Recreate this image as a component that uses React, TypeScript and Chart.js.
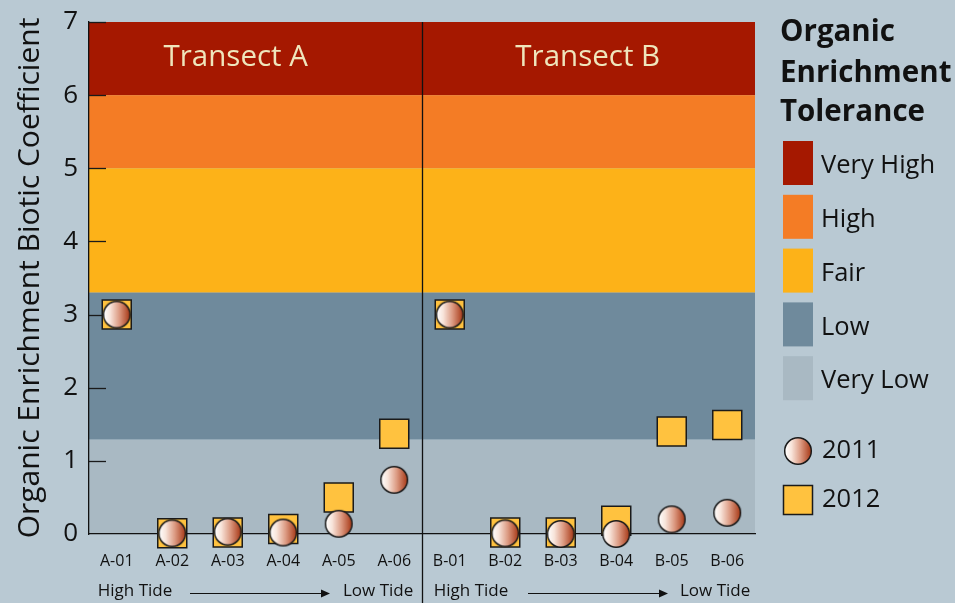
import React, { useEffect, useRef } from "react";
import { Chart, registerables } from "chart.js";
Chart.register(...registerables);

// ---- data ----
const categories = ["A-01", "A-02", "A-03", "A-04", "A-05", "A-06", "B-01", "B-02", "B-03", "B-04", "B-05", "B-06"];
const values2011 = [3.0, 0.01, 0.03, 0.02, 0.14, 0.74, 3.0, 0.01, 0.0, 0.0, 0.2, 0.29];
const values2012 = [3.0, 0.01, 0.02, 0.07, 0.5, 1.37, 3.0, 0.02, 0.02, 0.18, 1.4, 1.49];
const yTicks = [0, 1, 2, 3, 4, 5, 6, 7];
const bandNames = ["Very High", "High", "Fair", "Low", "Very Low"];
const bandFrom = [6, 5, 3.3, 1.29, 0];
const bandTo = [7, 6, 5, 3.3, 1.29];
const bandColors = ["#A51800", "#F47C25", "#FDB218", "#6F8A9C", "#A9B9C3"];
const transectNames = ["Transect A", "Transect B"];
const seriesNames = ["2011", "2012"];
const legendTitle = ["Organic", "Enrichment", "Tolerance"];
const yTitle = "Organic Enrichment Biotic Coefficient";
const tideLabels = ["High Tide", "Low Tide"];

const BG = "#B9C9D3";
const INK = "#111111";
const FONT = "'Open Sans', 'DejaVu Sans', sans-serif";
const SQUARE_FILL = "#FFC23F";

function makeCircleImage(): HTMLCanvasElement {
  const c = document.createElement("canvas");
  c.width = 30;
  c.height = 30;
  const g = c.getContext("2d")!;
  const grad = g.createLinearGradient(2, 0, 28, 0);
  grad.addColorStop(0, "#FFFFFF");
  grad.addColorStop(0.25, "#F8E4DA");
  grad.addColorStop(0.6, "#DC9A82");
  grad.addColorStop(1, "#A83A18");
  g.beginPath();
  g.arc(15, 15, 13.3, 0, Math.PI * 2);
  g.fillStyle = grad;
  g.fill();
  g.lineWidth = 1.5;
  g.strokeStyle = "#1a1a1a";
  g.stroke();
  return c;
}

export default function App() {
  const ref = useRef<HTMLCanvasElement | null>(null);

  useEffect(() => {
    document.body.style.margin = "0";
    const canvas = ref.current!;
    const circleImg = makeCircleImage();

    const decor = {
      id: "decor",
      beforeDraw(chart: any) {
        const { ctx, chartArea } = chart;
        const y = chart.scales.y;
        ctx.save();
        ctx.fillStyle = BG;
        ctx.fillRect(0, 0, chart.width, chart.height);
        for (let i = 0; i < bandNames.length; i++) {
          const top = y.getPixelForValue(bandTo[i]);
          const bot = y.getPixelForValue(bandFrom[i]);
          ctx.fillStyle = bandColors[i];
          ctx.fillRect(chartArea.left, top, chartArea.right - chartArea.left, bot - top);
        }
        ctx.restore();
      },
      beforeDatasetsDraw(chart: any) {
        const { ctx, chartArea } = chart;
        const x = chart.scales.x;
        const y = chart.scales.y;
        ctx.save();
        // inner tick marks
        ctx.strokeStyle = "#1a1a1a";
        ctx.lineWidth = 1.3;
        for (const t of yTicks) {
          if (t === 0) continue;
          const py = Math.round(y.getPixelForValue(t)) + 0.5;
          ctx.beginPath();
          ctx.moveTo(chartArea.left, py);
          ctx.lineTo(chartArea.left + 17, py);
          ctx.stroke();
        }
        // divider
        const dx = Math.round((x.getPixelForValue(5) + x.getPixelForValue(6)) / 2) + 0.5;
        ctx.lineWidth = 1.3;
        ctx.strokeStyle = "#111";
        ctx.beginPath();
        ctx.moveTo(dx, chartArea.top);
        ctx.lineTo(dx, chart.height);
        ctx.stroke();
        // transect labels
        ctx.fillStyle = "#EFE6BC";
        ctx.font = `29.5px ${FONT}`;
        ctx.textAlign = "center";
        ctx.textBaseline = "middle";
        const ty = 58;
        ctx.fillText(transectNames[0], (chartArea.left + dx) / 2 - 20, ty);
        ctx.fillText(transectNames[1], (dx + chartArea.right) / 2 - 1, ty);
        // tide labels
        ctx.fillStyle = INK;
        ctx.font = `17px ${FONT}`;
        const tyy = 591;
        const groups = [
          { hi: x.getPixelForValue(0) - 19, lo: x.getPixelForValue(5) + 19, a0: 190, a1: 330 },
          { hi: x.getPixelForValue(6) - 16, lo: x.getPixelForValue(11) + 23, a0: 528, a1: 668 },
        ];
        for (const gp of groups) {
          ctx.textAlign = "left";
          ctx.fillText(tideLabels[0], gp.hi, tyy);
          ctx.textAlign = "right";
          ctx.fillText(tideLabels[1], gp.lo, tyy);
          ctx.strokeStyle = "#111";
          ctx.lineWidth = 1.2;
          ctx.beginPath();
          ctx.moveTo(gp.a0, 593.5);
          ctx.lineTo(gp.a1 - 6, 593.5);
          ctx.stroke();
          ctx.beginPath();
          ctx.moveTo(gp.a1, 593.5);
          ctx.lineTo(gp.a1 - 9, 589.5);
          ctx.lineTo(gp.a1 - 9, 597.5);
          ctx.closePath();
          ctx.fillStyle = "#111";
          ctx.fill();
        }
        ctx.restore();
      },
      afterDraw(chart: any) {
        const { ctx } = chart;
        ctx.save();
        ctx.fillStyle = INK;
        ctx.textAlign = "left";
        ctx.textBaseline = "middle";
        ctx.font = `bold 29.5px ${FONT}`;
        const titleY = [33, 74, 113];
        legendTitle.forEach((t, i) => ctx.fillText(t, 780, titleY[i]));
        ctx.font = `25.5px ${FONT}`;
        for (let i = 0; i < bandNames.length; i++) {
          const top = 141 + i * 53.8;
          ctx.fillStyle = bandColors[i];
          ctx.fillRect(783, top, 30, 44);
          ctx.fillStyle = INK;
          ctx.fillText(bandNames[i], 821, top + 25);
        }
        ctx.drawImage(circleImg, 798 - 15, 451 - 15);
        ctx.fillText(seriesNames[0], 822, 451);
        ctx.fillStyle = SQUARE_FILL;
        ctx.fillRect(783.5, 485.5, 29, 29);
        ctx.strokeStyle = "#1a1a1a";
        ctx.lineWidth = 1.5;
        ctx.strokeRect(783.5, 485.5, 29, 29);
        ctx.fillStyle = INK;
        ctx.fillText(seriesNames[1], 822, 500);
        ctx.restore();
      },
    };

    const chart = new Chart(canvas, {
      type: "line",
      data: {
        labels: categories,
        datasets: [
          {
            label: seriesNames[0],
            data: values2011,
            showLine: false,
            clip: false as any,
            pointStyle: circleImg as any,
            pointRadius: 14,
            pointHoverRadius: 14,
          },
          {
            label: seriesNames[1],
            data: values2012,
            showLine: false,
            clip: false as any,
            pointStyle: "rect",
            pointRadius: 20.5,
            pointHoverRadius: 20.5,
            pointBackgroundColor: SQUARE_FILL,
            pointBorderColor: "#1a1a1a",
            pointBorderWidth: 1.5,
            pointHoverBorderWidth: 1.5,
          },
        ],
      },
      options: {
        responsive: false,
        animation: false,
        events: [],
        layout: { padding: { left: 0, right: 200, top: 19.5, bottom: 0 } },
        plugins: { legend: { display: false }, tooltip: { enabled: false } },
        scales: {
          x: {
            type: "category",
            offset: true,
            grid: { display: false, drawTicks: true, tickLength: 18 },
            border: { display: true, color: "#111", width: 1.3 },
            ticks: { color: INK, font: { size: 16, family: FONT }, padding: 0, maxRotation: 0, autoSkip: false },
            afterFit: (s: any) => {
              s.height = 69;
            },
          },
          y: {
            min: 0,
            max: 7,
            grid: { display: false, drawTicks: true, tickLength: 11 },
            border: { display: true, color: "#111", width: 1.3 },
            ticks: { stepSize: 1, color: INK, font: { size: 26, family: FONT }, padding: 0 },
            title: {
              display: true,
              text: yTitle,
              color: INK,
              font: { size: 30, family: FONT },
              padding: { top: 12, bottom: 0 },
            },
            afterFit: (s: any) => {
              s.width = 89;
            },
          },
        },
      },
      plugins: [decor],
    });
    return () => chart.destroy();
  }, []);

  return (
    <div style={{ width: 955, height: 603, background: BG }}>
      <canvas ref={ref} width={955} height={603} style={{ display: "block" }} />
    </div>
  );
}
